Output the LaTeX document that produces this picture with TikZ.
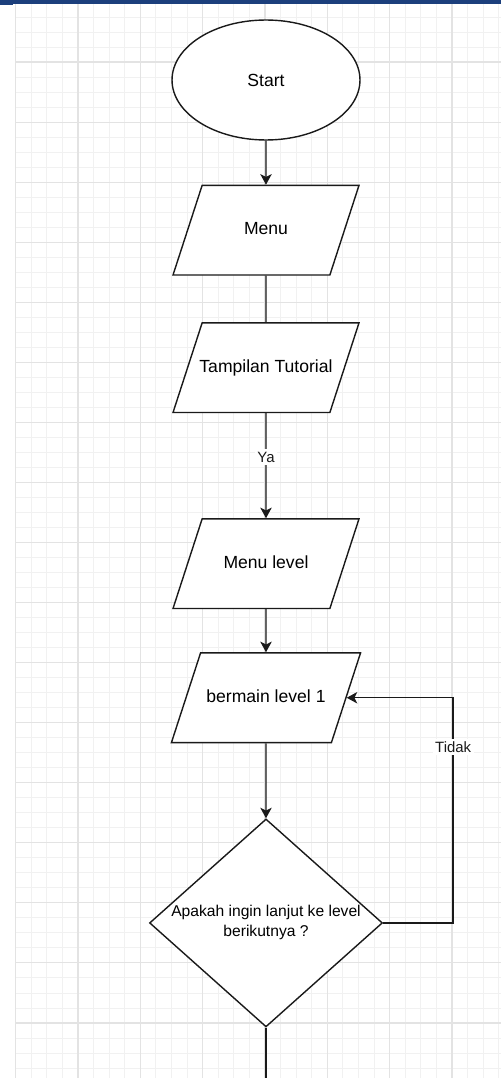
\documentclass[tikz,border=0pt]{standalone}
\usepackage{fontspec}
\setmainfont{Liberation Sans}
\usetikzlibrary{arrows.meta,shapes.geometric,positioning}

\definecolor{barblue}{HTML}{1C3F7C}
\definecolor{ink}{HTML}{1A1A1A}

\begin{document}
\begin{tikzpicture}[x=0.02cm,y=-0.02cm,>={Stealth[length=6pt,width=6.5pt,inset=1.6pt]},
                    line width=0.8pt,node distance=0.9cm]
  \tikzstyle{minorgrid}=[draw=gray!11,line width=0.5pt]
  \tikzstyle{majorgrid}=[draw=gray!22,line width=0.6pt]
  \tikzstyle{term}=[draw=ink,fill=white,shape=ellipse,minimum width=3.76cm,
                    minimum height=2.4cm,font=\fontsize{10}{12}\selectfont]
  \tikzstyle{io}=[draw=ink,fill=white,shape=trapezium,trapezium left angle=72,
                  trapezium right angle=108,trapezium stretches body=true,
                  minimum width=3.72cm,text height=7pt,text depth=2pt,
                  inner ysep=21pt,font=\fontsize{10}{12}\selectfont]
  \tikzstyle{decision}=[draw=ink,fill=white,shape=diamond,aspect=1.12,
                        minimum width=4.66cm,minimum height=4.16cm,inner sep=0pt,
                        align=center,font=\fontsize{8.9}{11.4}\selectfont]
  \tikzstyle{flow}=[draw=ink,->]
  \tikzstyle{wire}=[draw=ink,-]
  \tikzstyle{tag}=[fill=white,inner sep=1.5pt,text=ink,font=\fontsize{8.5}{10}\selectfont]

  \useasboundingbox[fill=white] (0,0) rectangle (501,1078);

  % background grid
  \foreach \i in {0,...,31}
    \draw[minorgrid] ({15.67+\i*15.58},0) -- ++(0,1078);
  \foreach \j in {0,...,71}
    \draw[minorgrid] (15.67,{1.94+\j*15.015}) -- (501,{1.94+\j*15.015});
  \foreach \i in {0,...,7}
    \draw[majorgrid] ({15.67+\i*62.33},0) -- ++(0,1078);
  \foreach \j in {0,...,17}
    \draw[majorgrid] (15.67,{1.94+\j*60.06}) -- (501,{1.94+\j*60.06});
  \fill[barblue] (0,0) rectangle (501,4);
  \fill[barblue] (0,0) rectangle (13,5);

  \node[term]     (start)  at (266,80)             {Start};
  \node[io]       (menu)   [below=0.88cm of start] {Menu};
  \node[io]       (tutor)  [below=0.93cm of menu]   {\makebox[0pt]{Tampilan Tutorial}};
  \node[io]       (mlevel) [below=2.1cm of tutor]   {Menu level};
  \node[io]       (play1)  [below=0.86cm of mlevel] {bermain level 1};
  \node[decision] (ask)    [below=1.5cm of play1]   {Apakah ingin lanjut ke level\\berikutnya ?};

  \coordinate [right=1.4cm of ask.east]   (turn);
  \coordinate [below=1.2cm of ask.south]  (exit);

  \path (start)  edge[flow] (menu)
        (menu)   edge[wire] (tutor)
        (tutor)  edge[flow] node[tag,pos=0.42] {Ya} (mlevel)
        (mlevel) edge[flow] (play1)
        (play1)  edge[flow] (ask)
        (ask)    edge[wire] (exit);
  \draw[flow] (ask.east) -- (turn) |- node[tag,pos=0.39] {Tidak} (play1.east);
\end{tikzpicture}
\end{document}
